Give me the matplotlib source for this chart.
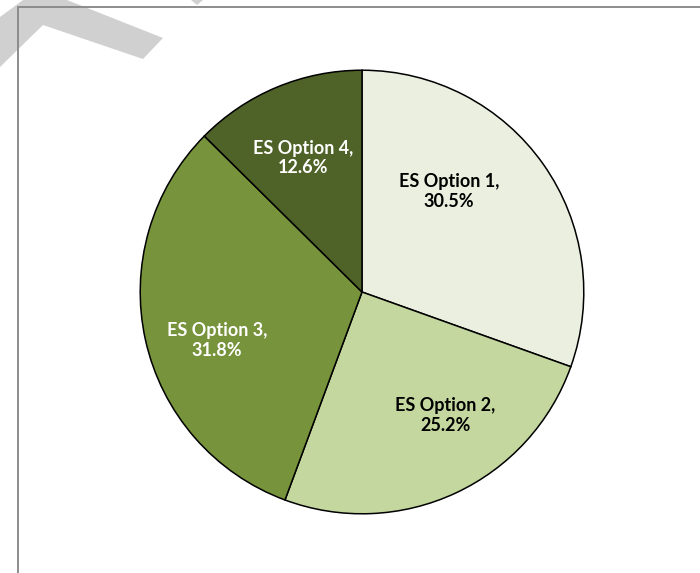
import numpy as np
import matplotlib
matplotlib.use("Agg")
import matplotlib.pyplot as plt
from matplotlib.patches import Polygon
from matplotlib.lines import Line2D

# data
labels = ["ES Option 1", "ES Option 2", "ES Option 3", "ES Option 4"]
shares = [30.5, 25.2, 31.8, 12.6]
colors = ["#EBEFDF", "#C4D79F", "#77933C", "#4F6228"]
text_colors = ["black", "black", "white", "white"]

# nudges to mimic excel's "best fit" label placement
label_rot = [14, 9, 6, 1]   # degrees added to mid angle
label_r = [0.60, 0.67, 0.69, 0.66]

W, H = 700, 573
fig = plt.figure(figsize=(W / 100, H / 100), dpi=100)

# watermark fragment in the corner
def px(pts):
    return [(x / W, 1 - y / H) for x, y in pts]

fig.add_artist(Polygon(px([(0, 17), (23, 0), (67, 0), (163, 38), (143, 59),
                           (43, 25), (0, 67)]), closed=True,
                       facecolor="#D0D0D0", edgecolor="none", zorder=0))
fig.add_artist(Polygon(px([(191, 0), (203, 0), (197, 5)]), closed=True,
                       facecolor="#D0D0D0", edgecolor="none", zorder=0))

# chart area border (runs off right and bottom)
fig.add_artist(Line2D([18 / W, 1], [1 - 7 / H, 1 - 7 / H], color="#8C8C8C", lw=1.4))
fig.add_artist(Line2D([18 / W, 18 / W], [1 - 7 / H, 0], color="#8C8C8C", lw=1.4))

cx, cy, r = 362, 292, 224
ax = fig.add_axes([(cx - r) / W, (H - cy - r) / H, 2 * r / W, 2 * r / H])
wedges, _ = ax.pie(shares, colors=colors, startangle=90, counterclock=False,
                   radius=1, wedgeprops=dict(edgecolor="black", linewidth=1.1))
ax.set_xlim(-1.01, 1.01)
ax.set_ylim(-1.01, 1.01)
ax.set_aspect("equal")
ax.axis("off")

for i, w in enumerate(wedges):
    mid = np.deg2rad((w.theta1 + w.theta2) / 2 + label_rot[i])
    x = label_r[i] * np.cos(mid)
    y = label_r[i] * np.sin(mid)
    ax.text(x, y, f"{labels[i]},\n{shares[i]:.1f}%", ha="center", va="center",
            fontsize=13, fontweight="bold", family=["Lato", "DejaVu Sans"],
            color=text_colors[i], linespacing=1.2)

fig.savefig("out.png", dpi=100)
